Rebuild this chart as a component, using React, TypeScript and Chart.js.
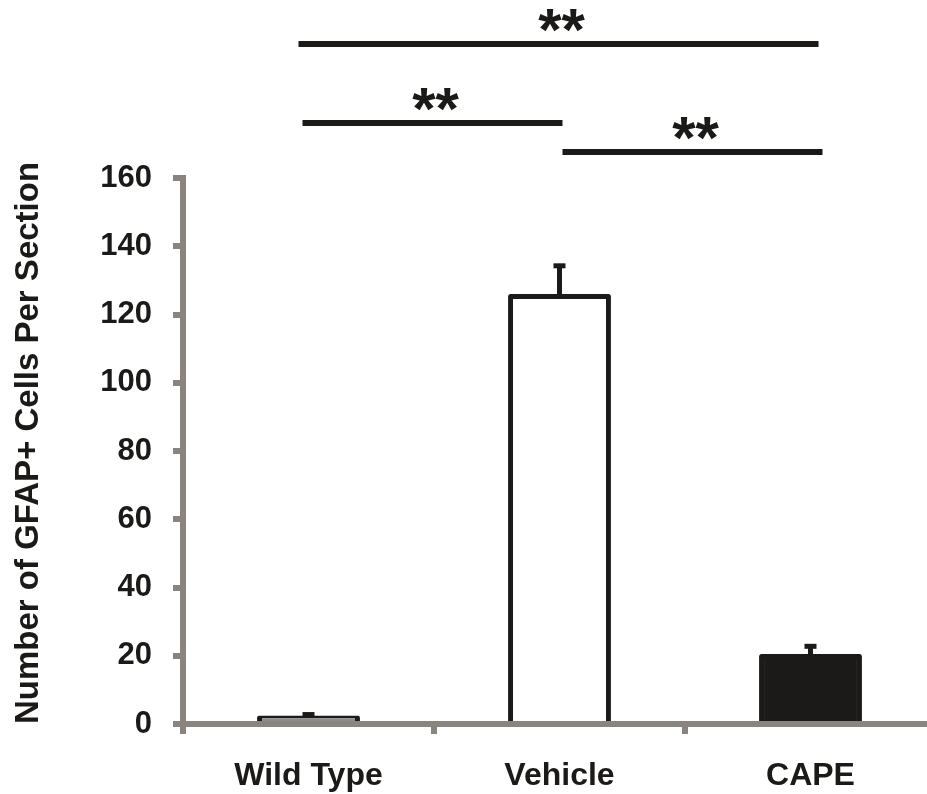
import React, { useEffect, useRef } from "react";
import { Chart, registerables } from "chart.js";

Chart.register(...registerables);

// Groups and measurements (mean ± SEM)
const categories = ["Wild Type", "Vehicle", "CAPE"];
const cellCounts = [2.5, 126, 20.5];
const semValues = [1, 9, 3];

// Y axis range and tick spacing
const yMin = 0;
const yMax = 160;
const yStep = 20;

// Pairwise significance comparisons (group indices) and their markers
const compareFrom = [0, 0, 1];
const compareTo = [2, 1, 2];
const compareLabels = ["**", "**", "**"];

// Styling
const FONT = "'Liberation Sans', Arial, Helvetica, sans-serif";
const INK = "#1b1a18";
const AXIS = "#8a847f";
const barFills = ["#8c8c8c", "#ffffff", "#1b1a18"];

// Bracket line style: height above plot top (px) and end insets (px)
const bracketRise = [134, 55, 26];
const bracketInset: [number, number][] = [
  [-10, 8],
  [-6, 3],
  [3, 12],
];

const errorBarPlugin = {
  id: "errorBars",
  afterDatasetsDraw(chart: any) {
    const { ctx } = chart;
    const meta = chart.getDatasetMeta(0);
    const y = chart.scales.y;
    ctx.save();
    ctx.strokeStyle = INK;
    ctx.fillStyle = INK;
    ctx.lineWidth = 5;
    meta.data.forEach((bar: any, i: number) => {
      const top = y.getPixelForValue(cellCounts[i] + semValues[i]);
      const base = y.getPixelForValue(cellCounts[i]);
      ctx.beginPath();
      ctx.moveTo(bar.x, base);
      ctx.lineTo(bar.x, top + 2);
      ctx.stroke();
      ctx.fillRect(bar.x - 6, top, 12, 5);
    });
    ctx.restore();
  },
};

const significancePlugin = {
  id: "significance",
  afterDraw(chart: any) {
    const { ctx, chartArea } = chart;
    const x = chart.scales.x;
    ctx.save();
    ctx.strokeStyle = INK;
    ctx.fillStyle = INK;
    ctx.lineWidth = 6;
    ctx.font = `bold 60px ${FONT}`;
    ctx.textAlign = "center";
    ctx.textBaseline = "alphabetic";
    compareFrom.forEach((from, i) => {
      const x0 = x.getPixelForValue(from) + bracketInset[i][0];
      const x1 = x.getPixelForValue(compareTo[i]) + bracketInset[i][1];
      const yLine = chartArea.top - bracketRise[i];
      ctx.beginPath();
      ctx.moveTo(x0, yLine);
      ctx.lineTo(x1, yLine);
      ctx.stroke();
      const m = ctx.measureText(compareLabels[i]);
      const asc = m.actualBoundingBoxAscent;
      const desc = m.actualBoundingBoxDescent;
      const centerY = yLine - 24;
      ctx.fillText(compareLabels[i], (x0 + x1) / 2 + 3, centerY + (asc - desc) / 2);
    });
    ctx.restore();
  },
};

export default function App() {
  const canvasRef = useRef<HTMLCanvasElement | null>(null);

  useEffect(() => {
    const canvas = canvasRef.current;
    if (!canvas) return;
    const chart = new Chart(canvas, {
      type: "bar",
      data: {
        labels: categories,
        datasets: [
          {
            data: cellCounts,
            backgroundColor: barFills,
            borderColor: INK,
            borderWidth: 5,
            borderRadius: 2,
            categoryPercentage: 1,
            barPercentage: 0.41,
          },
        ],
      },
      options: {
        responsive: false,
        animation: false,
        events: [],
        layout: { padding: { top: 178, right: 9, left: 0, bottom: 0 } },
        plugins: {
          legend: { display: false },
          tooltip: { enabled: false },
          title: { display: false },
        },
        scales: {
          x: {
            type: "category",
            offset: true,
            z: 1,
            afterFit: (scale: any) => {
              scale.height = 70;
            },
            grid: {
              display: true,
              offset: true,
              drawOnChartArea: false,
              drawTicks: true,
              tickLength: 10,
              color: AXIS,
              lineWidth: 6,
            },
            border: { display: true, color: AXIS, width: 6 },
            ticks: {
              color: INK,
              padding: 23,
              font: { family: FONT, size: 32, weight: "bold" },
            },
          },
          y: {
            min: yMin,
            max: yMax,
            afterFit: (scale: any) => {
              scale.width = 183;
            },
            grid: {
              display: true,
              drawOnChartArea: false,
              drawTicks: true,
              tickLength: 10,
              color: AXIS,
              lineWidth: 6,
            },
            border: { display: true, color: AXIS, width: 6 },
            ticks: {
              stepSize: yStep,
              color: INK,
              padding: 21,
              font: { family: FONT, size: 31, weight: "bold" },
            },
            title: {
              display: true,
              text: "Number of GFAP+ Cells Per Section",
              color: INK,
              align: "start",
              padding: { top: 9, bottom: 0 },
              font: { family: FONT, size: 33, weight: "bold" },
            },
          },
        },
      },
      plugins: [errorBarPlugin, significancePlugin],
    });
    return () => chart.destroy();
  }, []);

  return (
    <div
      style={{
        position: "absolute",
        left: 0,
        top: 0,
        width: 927,
        height: 794,
        overflow: "hidden",
        background: "#ffffff",
      }}
    >
      <canvas ref={canvasRef} width={945} height={794} style={{ display: "block" }} />
    </div>
  );
}
